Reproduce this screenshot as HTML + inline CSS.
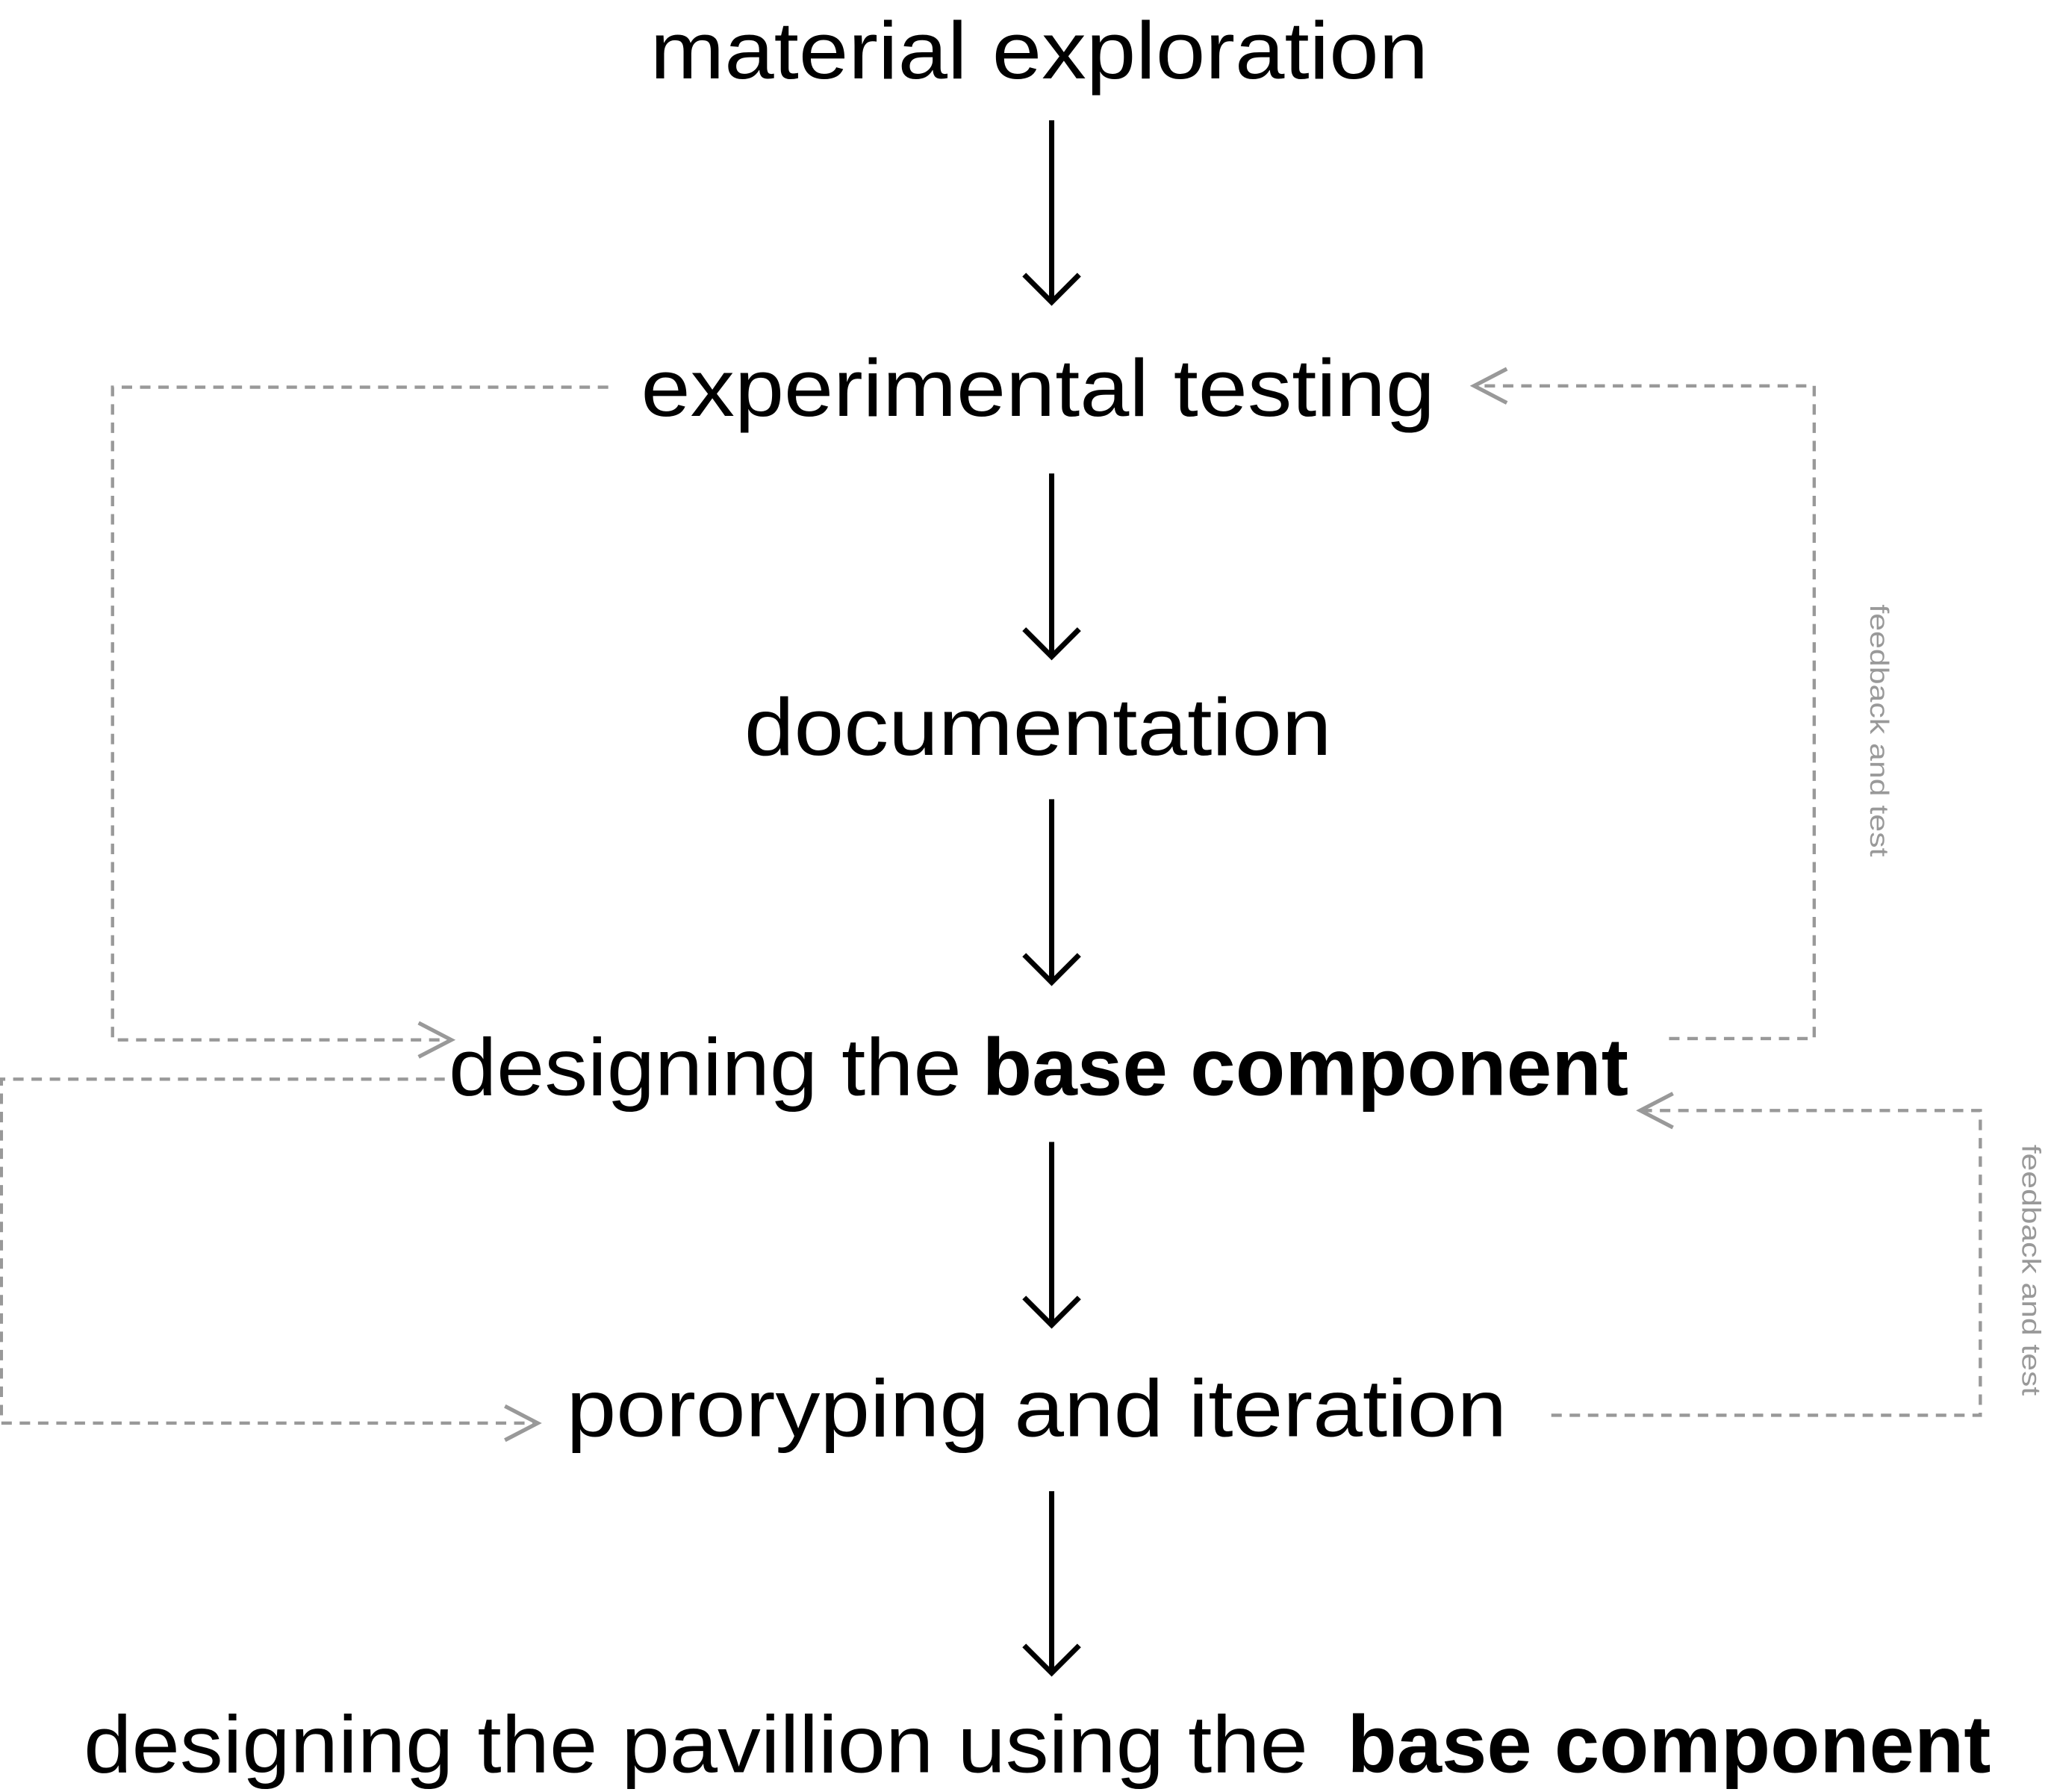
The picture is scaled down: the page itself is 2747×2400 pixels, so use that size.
<!DOCTYPE html>
<html><head><meta charset="utf-8"><style>
html,body{margin:0;padding:0;background:#fff;}
svg{display:block;}
</style></head><body>
<svg width="2747" height="2400" viewBox="0 0 1568 1370" xmlns="http://www.w3.org/2000/svg">
<g font-family="Liberation Sans, sans-serif" font-size="62" fill="#000">
<text x="497" y="60" textLength="595" lengthAdjust="spacingAndGlyphs">material exploration</text>
<text x="490" y="318" textLength="607" lengthAdjust="spacingAndGlyphs">experimental testing</text>
<text x="569" y="577" textLength="449" lengthAdjust="spacingAndGlyphs">documentation</text>
<text x="343" y="837" textLength="392" lengthAdjust="spacingAndGlyphs">designing the</text>
<text x="751" y="837" textLength="494" lengthAdjust="spacingAndGlyphs" font-weight="bold">base component</text>
<text x="433" y="1098" textLength="719" lengthAdjust="spacingAndGlyphs">pororyping and iteration</text>
<text x="64" y="1355" textLength="936" lengthAdjust="spacingAndGlyphs">designing the pavillion using the</text>
<text x="1030" y="1355" textLength="492" lengthAdjust="spacingAndGlyphs" font-weight="bold">base component</text>
</g>
<g stroke="#000" stroke-width="4" fill="none">
<line x1="804" y1="92" x2="804" y2="231"/><polyline points="783,210 804,231 825,210"/>
<line x1="804" y1="362" x2="804" y2="502"/><polyline points="783,481 804,502 825,481"/>
<line x1="804" y1="611" x2="804" y2="751"/><polyline points="783,730 804,751 825,730"/>
<line x1="804" y1="873" x2="804" y2="1013"/><polyline points="783,992 804,1013 825,992"/>
<line x1="804" y1="1140" x2="804" y2="1279"/><polyline points="783,1258 804,1279 825,1258"/>
</g>
<g stroke="#999" stroke-width="2.5" fill="none" stroke-dasharray="8,6">
<polyline points="465,296 86,296 86,795 343,795"/>
<polyline points="1276,794 1387,794 1387,295 1128,295"/>
<polyline points="340,825 1,825 1,1088 408,1088"/>
<polyline points="1186,1082 1514,1082 1514,849 1256,849"/>
</g>
<g stroke="#999" stroke-width="3" fill="none">
<polyline points="320,782 345,795 320,808"/>
<polyline points="1152,282 1127,295 1152,308"/>
<polyline points="386,1075 411,1088 386,1101"/>
<polyline points="1279,836 1254,849 1279,862"/>
</g>
<g font-family="Liberation Sans, sans-serif" font-size="20" fill="#999">
<text transform="translate(1430,462) rotate(90)" textLength="193" lengthAdjust="spacingAndGlyphs">feedback and test</text>
<text transform="translate(1546,875) rotate(90)" textLength="192" lengthAdjust="spacingAndGlyphs">feedback and test</text>
</g>
</svg>
</body></html>
